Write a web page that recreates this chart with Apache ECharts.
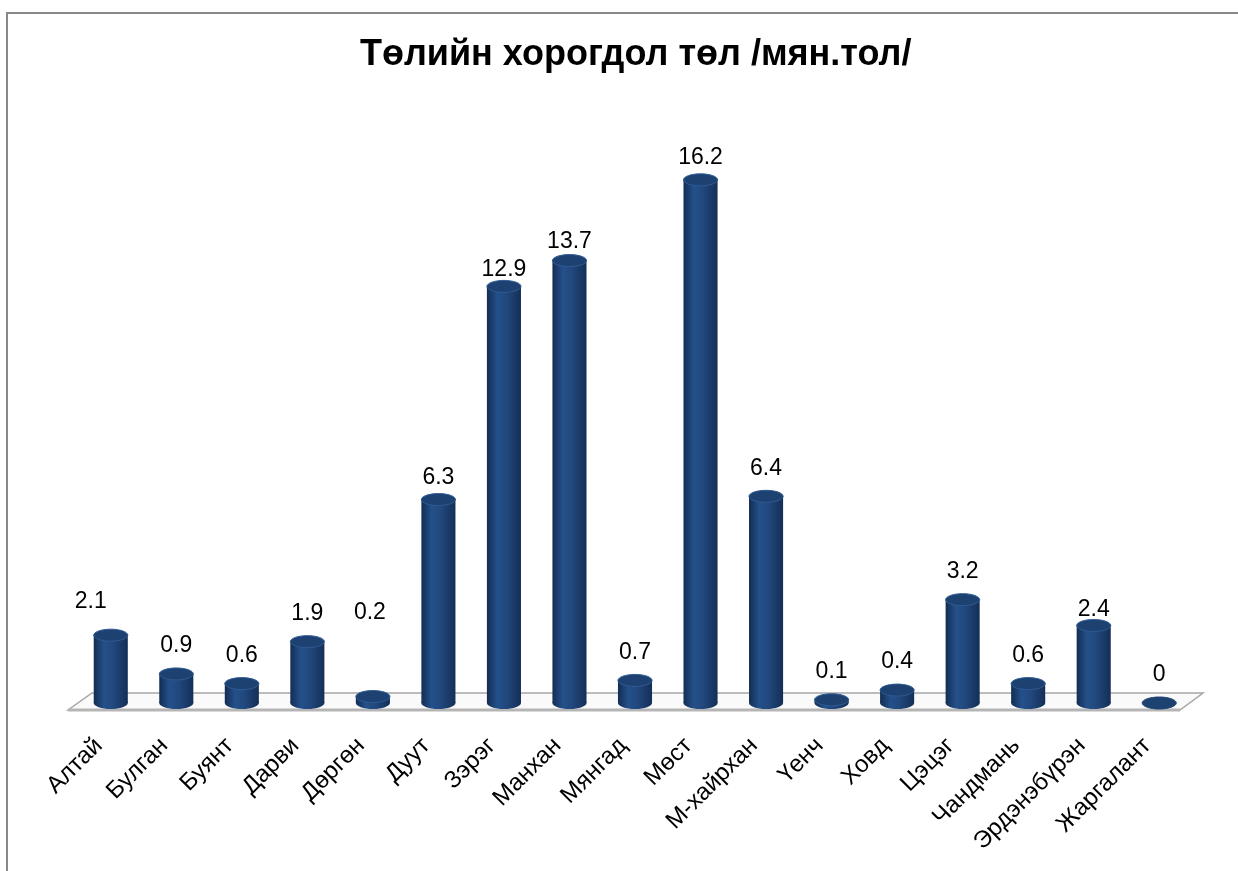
<!DOCTYPE html>
<html>
<head>
<meta charset="utf-8">
<script src="https://cdn.jsdelivr.net/npm/echarts@6/dist/echarts.min.js"></script>
<style>
  html, body { margin: 0; padding: 0; background: #fff; }
  #chart { width: 1238px; height: 871px; }
</style>
</head>
<body>
<div id="chart"></div>
<script>
// data
var chartTitle = 'Төлийн хорогдол төл /мян.тол/';
var categories = ['Алтай', 'Булган', 'Буянт', 'Дарви', 'Дөргөн', 'Дуут', 'Зэрэг', 'Манхан', 'Мянгад',
    'Мөст', 'М-хайрхан', 'Үенч', 'Ховд', 'Цэцэг', 'Чандмань', 'Эрдэнэбүрэн', 'Жаргалант'];
var values = [2.1, 0.9, 0.6, 1.9, 0.2, 6.3, 12.9, 13.7, 0.7, 16.2, 6.4, 0.1, 0.4, 3.2, 0.6, 2.4, 0];

// layout
var gridLeft = 78, gridRight = 46, gridTop = 154, gridBottom = 168;
var font = '"Liberation Sans", Arial, sans-serif';
// a few labels sit off the usual spot in the original (dx, dy)
var labelNudge = { 0: [-20, -6], 4: [-3, -56], 6: [0, 11], 7: [0, 9], 9: [0, 6], 5: [0, 6], 15: [0, 12] };

var chart = echarts.init(document.getElementById('chart'));

var bodyFill = new echarts.graphic.LinearGradient(0, 0, 1, 0, [
    { offset: 0, color: '#132d52' },
    { offset: 0.3, color: '#24508a' },
    { offset: 0.55, color: '#22497f' },
    { offset: 1, color: '#142f57' }
]);

function renderCylinder(params, api) {
    var i = params.dataIndex;
    var v = api.value(1);
    var top = api.coord([api.value(0), v]);
    var base = api.coord([api.value(0), 0]);
    var rx = api.size([1, 0])[0] * 0.26;
    var ry = 6;
    var cx = top[0];
    var kids = [];
    if (v > 0) {
        kids.push({ type: 'ellipse', shape: { cx: cx, cy: base[1], rx: rx, ry: ry }, style: { fill: bodyFill } });
        kids.push({ type: 'rect', shape: { x: cx - rx, y: top[1], width: rx * 2, height: base[1] - top[1] },
            style: { fill: bodyFill } });
    }
    kids.push({ type: 'ellipse', shape: { cx: cx, cy: top[1], rx: rx, ry: ry },
        style: { fill: '#1d4272', stroke: v > 0 ? '#2f5a92' : '#1d4272', lineWidth: 1 } });
    var n = labelNudge[i] || [0, 0];
    kids.push({ type: 'text', style: { text: String(v), x: cx + n[0], y: top[1] - 28 + n[1],
        align: 'center', verticalAlign: 'middle', font: '23px ' + font, fill: '#000' } });
    return { type: 'group', children: kids };
}

// floor parallelogram under the bars
var W = 1238, H = 871;
var floorY = H - gridBottom;
var floor = [
    [gridLeft - 10, floorY + 7], [gridLeft + 14, floorY - 10],
    [W - gridRight + 11, floorY - 10], [W - gridRight - 12, floorY + 7]
];

var option = {
    backgroundColor: '#fff',
    animation: false,
    title: {
        text: chartTitle, left: 355, top: 32,
        textStyle: { fontFamily: font, fontWeight: 'bold', fontSize: 36, color: '#000' }
    },
    grid: { left: gridLeft, right: gridRight, top: gridTop, bottom: gridBottom },
    xAxis: {
        type: 'category', data: categories,
        axisLine: { show: false }, axisTick: { show: false },
        axisLabel: { rotate: 45, margin: 27, padding: [0, 17, 0, 0], fontSize: 24, fontFamily: font,
            color: '#000', interval: 0 }
    },
    yAxis: { type: 'value', min: 0, max: 17, show: false, splitLine: { show: false } },
    graphic: [
        { type: 'polyline', z: -10, shape: { points: [[7, H], [7, 13], [W, 13]] },
          style: { stroke: '#888', lineWidth: 2, fill: null } },
        { type: 'polygon', z: -10, shape: { points: floor },
          style: { fill: '#fafafa', stroke: '#a6a6a6', lineWidth: 1.5 } },
        { type: 'line', z: -9, shape: { x1: floor[0][0], y1: floor[0][1], x2: floor[3][0], y2: floor[3][1] },
          style: { stroke: '#b5b5b5', lineWidth: 3 } }
    ],
    series: [{
        type: 'custom',
        renderItem: renderCylinder,
        data: values.map(function (v, i) { return [i, v]; }),
        z: 5
    }]
};

chart.setOption(option);
</script>
</body>
</html>
